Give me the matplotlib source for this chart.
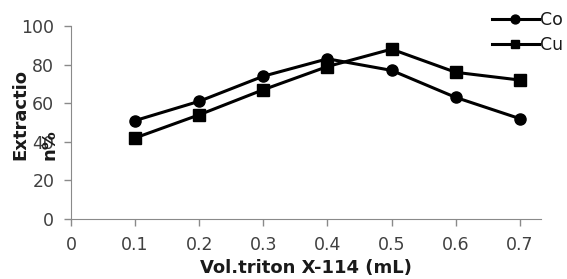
import matplotlib
matplotlib.use("Agg")
import matplotlib.pyplot as plt

# triton volume (mL) vs extraction %
vol = [0.1, 0.2, 0.3, 0.4, 0.5, 0.6, 0.7]
co = [51, 61, 74, 83, 77, 63, 52]
cu = [42, 54, 67, 79, 88, 76, 72]
x_ticks = [0, 0.1, 0.2, 0.3, 0.4, 0.5, 0.6, 0.7]
x_tick_labels = ["0", "0.1", "0.2", "0.3", "0.4", "0.5", "0.6", "0.7"]
y_ticks = [0, 20, 40, 60, 80, 100]

plt.rcParams['font.family'] = ['DejaVu Sans']

W, H = 567, 279
fig = plt.figure(figsize=(W / 100, H / 100), dpi=100)
ax = fig.add_axes([71 / W, 1 - 219 / H, 470 / W, 193 / H])

ax.plot(vol, co, color='black', lw=2.2, marker='o', ms=8, label='Co')
ax.plot(vol, cu, color='black', lw=2.2, marker='s', ms=8, label='Cu')

ax.set_xlim(0, 0.733)
ax.set_ylim(0, 100)
ax.set_xticks(x_ticks)
ax.set_xticklabels(x_tick_labels)
ax.set_yticks(y_ticks)

for side in ['top', 'right']:
    ax.spines[side].set_visible(False)
for side in ['left', 'bottom']:
    ax.spines[side].set_color('#8a8a8a')
ax.tick_params(colors='#8a8a8a', labelcolor='#404040', labelsize=12.5, length=5, width=1, pad=7)

lab_font = dict(fontweight='bold', fontsize=13, color='#1a1a1a')
ax.set_xlabel('Vol.triton X-114 (mL)', labelpad=4, **lab_font)
# y label wrapped in two lines, overlapping the tick labels like the original
fig.text(20 / W, 1 - 160 / H, 'Extractio', rotation=90, ha='center', va='bottom', **lab_font)
fig.text(50 / W, 1 - 160 / H, 'n%', rotation=90, ha='center', va='bottom', **lab_font)

leg = ax.legend(loc='upper left', bbox_to_anchor=(492 / W, 1 - 11 / H),
                bbox_transform=fig.transFigure, frameon=False,
                fontsize=12.5, handlelength=2.7, handletextpad=0.05,
                labelspacing=0.4, borderaxespad=0, borderpad=0, markerscale=0.8)
for t in leg.get_texts():
    t.set_color('#1a1a1a')

fig.savefig('out.png', dpi=100)
